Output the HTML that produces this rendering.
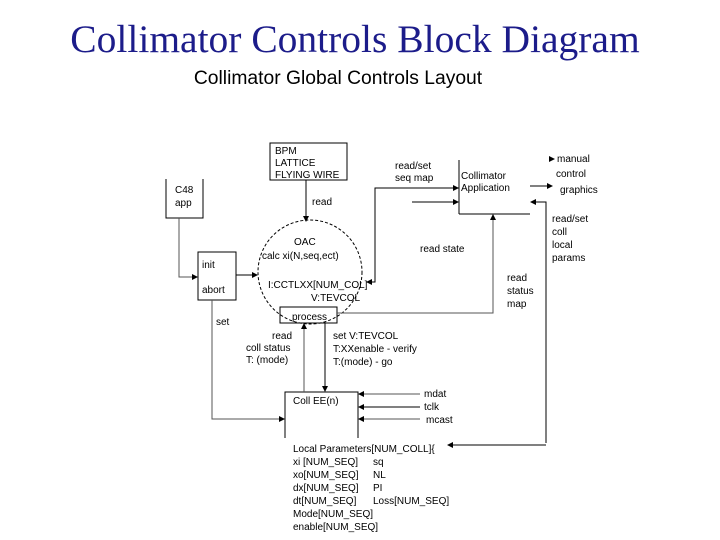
<!DOCTYPE html>
<html><head><meta charset="utf-8"><style>
html,body{margin:0;padding:0;background:#fff;}
svg{display:block;}
.t{font-family:"Liberation Sans",sans-serif;font-size:10px;fill:#000;}
</style></head><body>
<svg width="720" height="540" viewBox="0 0 720 540" xmlns="http://www.w3.org/2000/svg">
<defs>
<marker id="a" markerWidth="6" markerHeight="6" refX="5" refY="3" orient="auto" markerUnits="userSpaceOnUse"><path d="M0,0 L6,3 L0,6 z" fill="#000"/></marker>
</defs>
<text x="355" y="52" text-anchor="middle" font-family="Liberation Serif,serif" font-size="39.5" fill="#1c1c8a">Collimator Controls Block Diagram</text>
<text x="338" y="84" text-anchor="middle" font-family="Liberation Sans,sans-serif" font-size="19.3" fill="#000">Collimator Global Controls Layout</text>
<g stroke="#000" stroke-width="1" fill="none">
<rect x="270" y="143" width="77" height="37"/>
<polyline points="166,179 166,218 203,218 203,179"/>
<polyline points="179,218 179,277 197,277" marker-end="url(#a)" stroke="#555"/>
<rect x="198" y="252" width="38" height="48"/>
<line x1="236" y1="275" x2="257" y2="275" marker-end="url(#a)"/>
<circle cx="310" cy="272" r="52" stroke-dasharray="3,2"/>
<rect x="280" y="307" width="57" height="16"/>
<line x1="306" y1="180" x2="306" y2="221" marker-end="url(#a)"/>
<polyline points="337,313 493,313 493,215" marker-end="url(#a)" stroke="#555"/>
<line x1="459" y1="160" x2="459" y2="214"/>
<line x1="459" y1="214" x2="530" y2="214"/>
<polyline points="459,188 375,188 375,282 367,282" marker-end="url(#a)"/>
<line x1="375" y1="188" x2="458" y2="188" marker-end="url(#a)"/>
<line x1="412" y1="202" x2="458" y2="202" marker-end="url(#a)"/>
<line x1="530" y1="186" x2="552" y2="186" marker-end="url(#a)"/>
<polyline points="546,443 546,202 531,202" marker-end="url(#a)"/>
<line x1="546" y1="445" x2="448" y2="445" marker-end="url(#a)"/>
<polyline points="212,300 212,419 284,419" marker-end="url(#a)" stroke="#555"/>
<polyline points="285,438 285,392 358,392 358,438"/>
<line x1="304" y1="392" x2="304" y2="324" marker-end="url(#a)" stroke="#555"/>
<line x1="325" y1="323" x2="325" y2="391" marker-end="url(#a)"/>
<line x1="420" y1="394" x2="359" y2="394" marker-end="url(#a)" stroke="#555"/>
<line x1="420" y1="407" x2="359" y2="407" marker-end="url(#a)"/>
<line x1="420" y1="419" x2="359" y2="419" marker-end="url(#a)" stroke="#555"/>
</g>
<path d="M549,156 L555,159 L549,162 z" fill="#000"/>
<g class="t">
<text x="275" y="154">BPM</text>
<text x="275" y="166">LATTICE</text>
<text x="275" y="178">FLYING WIRE</text>
<text x="175" y="193">C48</text>
<text x="175" y="206">app</text>
<text x="312" y="205">read</text>
<text x="202" y="268">init</text>
<text x="202" y="293">abort</text>
<text x="294" y="245">OAC</text>
<text x="262" y="259">calc xi(N,seq,ect)</text>
<text x="268" y="288">I:CCTLXX[NUM_COL]</text>
<text x="311" y="301">V:TEVCOL</text>
<text x="292" y="320">process</text>
<text x="395" y="169">read/set</text>
<text x="395" y="181">seq map</text>
<text x="461" y="179">Collimator</text>
<text x="461" y="191">Application</text>
<text x="557" y="162">manual</text>
<text x="556" y="177">control</text>
<text x="560" y="193">graphics</text>
<text x="552" y="222">read/set</text>
<text x="552" y="235">coll</text>
<text x="552" y="248">local</text>
<text x="552" y="261">params</text>
<text x="420" y="252">read state</text>
<text x="507" y="281">read</text>
<text x="507" y="294">status</text>
<text x="507" y="307">map</text>
<text x="216" y="325">set</text>
<text x="272" y="339">read</text>
<text x="246" y="351">coll status</text>
<text x="246" y="363">T: (mode)</text>
<text x="333" y="339">set  V:TEVCOL</text>
<text x="333" y="352">T:XXenable - verify</text>
<text x="333" y="365">T:(mode) - go</text>
<text x="293" y="404">Coll EE(n)</text>
<text x="424" y="397">mdat</text>
<text x="424" y="410">tclk</text>
<text x="426" y="423">mcast</text>
<text x="293" y="452">Local Parameters[NUM_COLL]{</text>
<text x="293" y="465">xi [NUM_SEQ]</text>
<text x="373" y="465">sq</text>
<text x="293" y="478">xo[NUM_SEQ]</text>
<text x="373" y="478">NL</text>
<text x="293" y="491">dx[NUM_SEQ]</text>
<text x="373" y="491">PI</text>
<text x="293" y="504">dt[NUM_SEQ]</text>
<text x="373" y="504">Loss[NUM_SEQ]</text>
<text x="293" y="517">Mode[NUM_SEQ]</text>
<text x="293" y="530">enable[NUM_SEQ]</text>
</g>
</svg>
</body></html>
